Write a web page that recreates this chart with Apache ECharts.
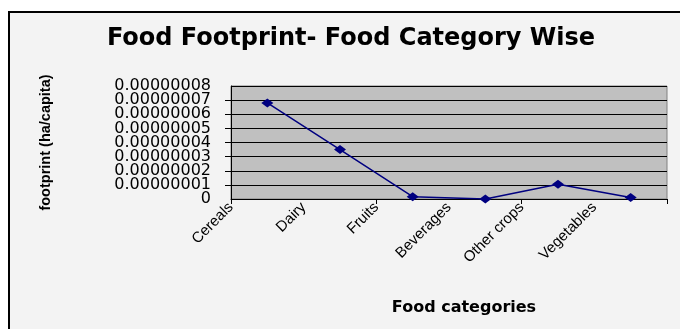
<!DOCTYPE html>
<html>
<head>
<meta charset="utf-8">
<script src="https://cdn.jsdelivr.net/npm/echarts@6/dist/echarts.min.js"></script>
<style>html,body{margin:0;padding:0;background:#fff}#c{width:680px;height:329px}</style>
</head>
<body>
<div id="c"></div>
<script>
const categories = ['Cereals', 'Dairy', 'Fruits', 'Beverages', 'Other crops', 'Vegetables'];
const footprint = [6.8e-8, 3.5e-8, 1.6e-9, 0, 1.05e-8, 1.0e-9];
const yMin = 0, yMax = 8e-8, yStep = 1e-8;

const fmt = v => (v === 0 ? '0' : v.toFixed(8));
const labelFont = {fontFamily: 'DejaVu Sans', fontSize: 16, color: '#000'};

const chart = echarts.init(document.getElementById('c'), null, {renderer: 'canvas'});
chart.setOption({
  backgroundColor: '#ffffff',
  animation: false,
  graphic: [{
    type: 'rect', z: -10, silent: true,
    shape: {x: 9, y: 12, width: 690, height: 330},
    style: {fill: '#f3f3f3', stroke: '#000', lineWidth: 2}
  }],
  title: {
    text: 'Food Footprint- Food Category Wise',
    left: 346, top: 22, textAlign: 'center',
    textStyle: {fontFamily: 'DejaVu Sans', fontWeight: 'bold', fontSize: 24, color: '#000'}
  },
  grid: {left: 231, right: 13, top: 86, bottom: 130, show: true, backgroundColor: '#c0c0c0', borderColor: '#808080', borderWidth: 1},
  xAxis: [{
    type: 'category', data: categories, boundaryGap: true,
    axisLine: {lineStyle: {color: '#000', width: 1}},
    axisTick: {show: true, length: 5, inside: false, lineStyle: {color: '#000'}},
    axisLabel: {show: false},
    splitLine: {show: false}
  }, {
    type: 'category', data: categories.concat(['']), boundaryGap: false, position: 'bottom',
    axisLine: {show: false}, axisTick: {show: false}, splitLine: {show: false},
    axisLabel: {show: true, rotate: 45, margin: 6, interval: 0, fontFamily: 'Liberation Sans', fontSize: 15, color: '#000'},
    name: 'Food categories', nameLocation: 'middle', nameGap: 101,
    nameTextStyle: {fontFamily: 'DejaVu Sans', fontWeight: 'bold', fontSize: 16, color: '#000', padding: [0, 0, 0, 30]}
  }],
  yAxis: [{
    type: 'value', min: yMin, max: yMax, interval: yStep, position: 'left',
    axisLine: {show: true, lineStyle: {color: '#000'}},
    axisTick: {show: true, length: 6, lineStyle: {color: '#000'}},
    splitLine: {show: true, lineStyle: {color: '#000', width: 1}},
    axisLabel: Object.assign({margin: 20, showMinLabel: false, showMaxLabel: false, formatter: fmt}, labelFont),
    name: 'footprint (ha/capita)', nameLocation: 'middle', nameRotate: 90, nameGap: 178,
    nameTextStyle: {fontFamily: 'Liberation Sans', fontWeight: 'bold', fontSize: 14.5, color: '#000'}
  }, {
    type: 'value', min: yMin, max: yMax, interval: yStep, position: 'left', offset: 0,
    axisLine: {show: false}, axisTick: {show: false}, splitLine: {show: false},
    axisLabel: Object.assign({margin: 20, showMinLabel: true, showMaxLabel: true,
      formatter: v => (v === yMin || v === yMax) ? fmt(v) : ''}, labelFont)
  }],
  series: [{
    type: 'line', xAxisIndex: 0, yAxisIndex: 0, data: footprint,
    symbol: 'diamond', symbolSize: [12, 9],
    lineStyle: {color: '#000080', width: 1.5},
    itemStyle: {color: '#000080'}
  }]
});
</script>
</body>
</html>
